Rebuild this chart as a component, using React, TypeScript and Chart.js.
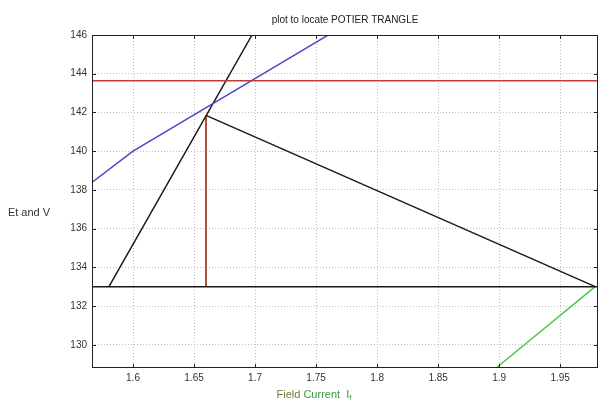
import React, { useEffect, useRef } from "react";
import { Chart, registerables } from "chart.js";

Chart.register(...registerables);

const titleText = "plot to locate POTIER TRANGLE";
const yLabel = "Et and V";
const xLabelA = "Field ";
const xLabelB = "Current  I";
const xLabelSub = "f";

const xMin = 1.5664;
const xMax = 1.981;
const yMin = 128.8;
const yMax = 146;

// Open-circuit (blue) curve
const occX = [1.55, 1.6, 1.8];
const occY = [137.6, 140, 147.5];
// Red horizontal
const redHX = [1.5, 2.0];
const redHY = [143.64, 143.64];
// Black horizontal (terminal voltage)
const baseX = [1.5, 2.0];
const baseY = [133, 133];
// Black steep line
const steepX = [1.5803, 1.6975];
const steepY = [133, 146];
// Red vertical
const redVX = [1.6598, 1.6598];
const redVY = [141.85, 133];
// Black hypotenuse
const hypX = [1.6598, 1.9787];
const hypY = [141.85, 133];
// Green line
const greenX = [1.9787, 1.8975];
const greenY = [133, 128.8];

const pts = (xs: number[], ys: number[]) => xs.map((x, i) => ({ x, y: ys[i] }));

const FONT = "'Liberation Sans', Arial, sans-serif";

const overlay = {
  id: "overlay",
  afterDraw(chart: any) {
    const { ctx, chartArea: a, scales } = chart;
    ctx.save();
    // box
    ctx.strokeStyle = "#222";
    ctx.lineWidth = 1;
    ctx.strokeRect(a.left + 0.5, a.top + 0.5, a.right - a.left - 1, a.bottom - a.top - 1);
    // inside ticks
    ctx.beginPath();
    scales.x.ticks.forEach((t: any) => {
      const px = Math.round(scales.x.getPixelForValue(t.value)) + 0.5;
      ctx.moveTo(px, a.bottom);
      ctx.lineTo(px, a.bottom - 4);
      ctx.moveTo(px, a.top);
      ctx.lineTo(px, a.top + 4);
    });
    scales.y.ticks.forEach((t: any) => {
      const py = Math.round(scales.y.getPixelForValue(t.value)) + 0.5;
      ctx.moveTo(a.left, py);
      ctx.lineTo(a.left + 4, py);
      ctx.moveTo(a.right, py);
      ctx.lineTo(a.right - 4, py);
    });
    ctx.stroke();
    // title
    ctx.fillStyle = "#222";
    ctx.font = `10px ${FONT}`;
    ctx.textAlign = "center";
    ctx.textBaseline = "middle";
    ctx.fillText(titleText, (a.left + a.right) / 2, 20);
    // y label
    ctx.fillStyle = "#333";
    ctx.font = `11px ${FONT}`;
    ctx.fillText(yLabel, 29, 213);
    // x label
    ctx.textAlign = "left";
    ctx.font = `11px ${FONT}`;
    const wa = ctx.measureText(xLabelA).width;
    const wb = ctx.measureText(xLabelB).width;
    ctx.font = `8px ${FONT}`;
    const ws = ctx.measureText(xLabelSub).width;
    const total = wa + wb + ws;
    const x0 = 314 - total / 2;
    ctx.font = `11px ${FONT}`;
    ctx.fillStyle = "#6b7a3a";
    ctx.fillText(xLabelA, x0, 395);
    ctx.fillStyle = "#3a9a3a";
    ctx.fillText(xLabelB, x0 + wa, 395);
    ctx.font = `8px ${FONT}`;
    ctx.fillText(xLabelSub, x0 + wa + wb, 398);
    ctx.restore();
  },
};

export default function App() {
  const ref = useRef<HTMLCanvasElement>(null);
  useEffect(() => {
    document.body.style.margin = "0";
    const line = (data: any, color: string, w = 1.5) => ({
      data,
      borderColor: color,
      backgroundColor: color,
      borderWidth: w,
      pointRadius: 0,
      showLine: true,
      fill: false,
      tension: 0,
    });
    const chart = new Chart(ref.current as HTMLCanvasElement, {
      type: "scatter",
      data: {
        datasets: [
          line(pts(redHX, redHY), "#c03a3a"),
          line(pts(occX, occY), "#4a48c8"),
          line(pts(baseX, baseY), "#1a1a1a"),
          line(pts(steepX, steepY), "#1a1a1a"),
          line(pts(redVX, redVY), "#b0503a", 2),
          line(pts(hypX, hypY), "#1a1a1a"),
          line(pts(greenX, greenY), "#4cc84c"),
        ],
      },
      options: {
        animation: false,
        responsive: false,
        layout: { padding: { top: 35, right: 3, left: 0, bottom: 0 } },
        plugins: { legend: { display: false }, title: { display: false }, tooltip: { enabled: false } },
        scales: {
          x: {
            type: "linear",
            min: xMin,
            max: xMax,
            afterFit: (s: any) => {
              s.height = 35;
            },
            ticks: {
              stepSize: 0.05,
              includeBounds: false,
              padding: 4,
              color: "#333",
              font: { size: 10, family: FONT },
              maxRotation: 0,
              callback: (v: any) => String(Number(Number(v).toFixed(2))),
            },
            grid: { color: "#c0c0c0", drawTicks: false, lineWidth: 1 },
            border: { display: false, dash: [1, 2] },
          },
          y: {
            type: "linear",
            min: yMin,
            max: yMax,
            afterFit: (s: any) => {
              s.width = 92;
            },
            ticks: {
              stepSize: 2,
              includeBounds: false,
              padding: 5,
              color: "#333",
              font: { size: 10, family: FONT },
              callback: (v: any) => String(Number(Number(v).toFixed(2))),
            },
            grid: { color: "#c0c0c0", drawTicks: false, lineWidth: 1 },
            border: { display: false, dash: [1, 2] },
          },
        },
      },
      plugins: [overlay],
    } as any);
    return () => chart.destroy();
  }, []);
  return (
    <div style={{ width: 601, height: 403, background: "#fff" }}>
      <canvas ref={ref} width={601} height={403} style={{ display: "block" }} />
    </div>
  );
}
